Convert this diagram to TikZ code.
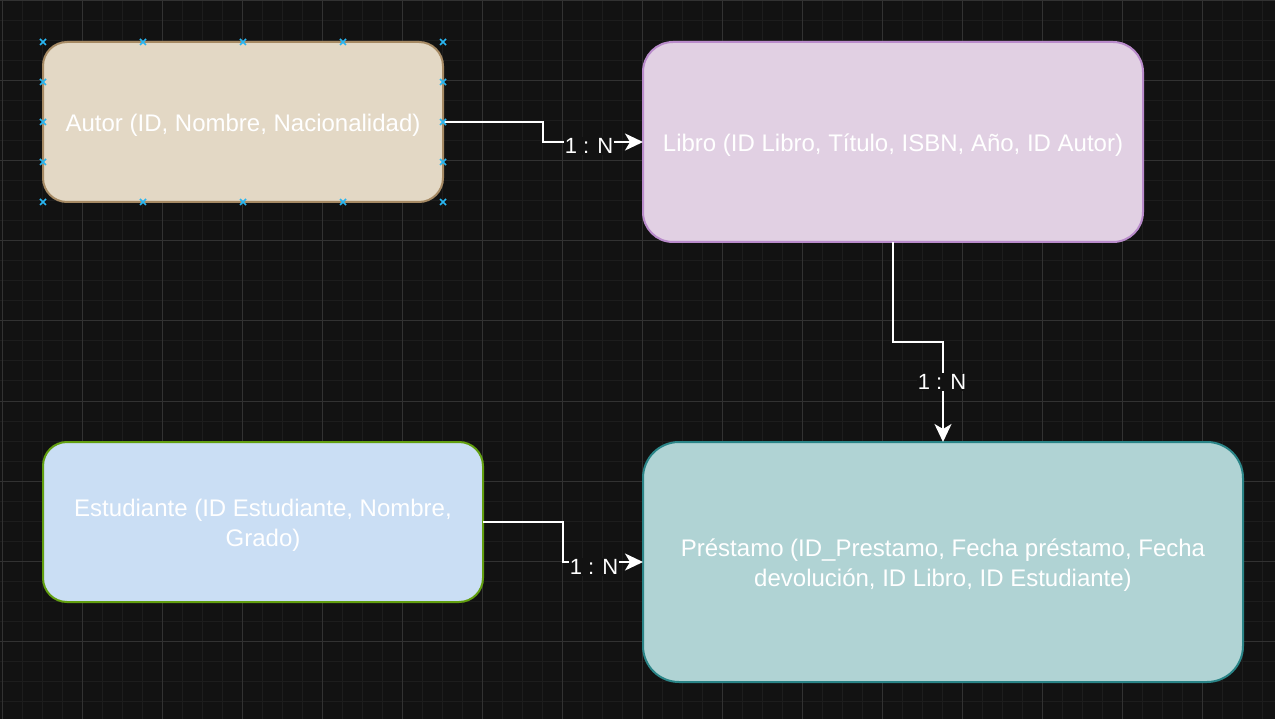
\documentclass[tikz,border=0pt]{standalone}
\usepackage{fontspec}
\setmainfont{Liberation Sans}
\usetikzlibrary{arrows.meta}
\definecolor{bgc}{HTML}{121212}
\definecolor{gminor}{HTML}{1D1D1D}
\definecolor{gmajor}{HTML}{323232}
\definecolor{autfill}{HTML}{E3D8C5}
\definecolor{autdraw}{HTML}{A68A64}
\definecolor{libfill}{HTML}{E1D0E3}
\definecolor{libdraw}{HTML}{B98BCB}
\definecolor{estfill}{HTML}{CADEF4}
\definecolor{estdraw}{HTML}{629F10}
\definecolor{prefill}{HTML}{B0D3D4}
\definecolor{predraw}{HTML}{2A8487}
\definecolor{selc}{HTML}{29B6F2}
\tikzset{
  entity/.style={rectangle, line width=2pt, inner sep=0pt, outer sep=0pt},
  etext/.style={text=white, align=center, font=\fontsize{24}{30}\selectfont, inner sep=0pt},
  rel/.style={draw=white, line width=2pt, -{Stealth[length=18pt,width=17pt,inset=5pt]}},
  lbl/.style={fill=bgc, text=white, inner sep=1pt, font=\fontsize{22}{26}\selectfont},
  selmark/.style={draw=selc, line width=1.6pt}
}
\begin{document}
\begin{tikzpicture}[x=1pt,y=-1pt]
\useasboundingbox (0,0) rectangle (1275,719);
\fill[bgc] (0,0) rectangle (1275,719);
% grid
\foreach \i in {0,...,63} {\draw[gminor, line width=1pt] ({2+20*\i},0) -- ({2+20*\i},719);}
\foreach \i in {0,...,35} {\draw[gminor, line width=1pt] (0,{1+20*\i}) -- (1275,{1+20*\i});}
\foreach \i in {0,...,15} {\draw[gmajor, line width=1pt] ({2+80*\i},0) -- ({2+80*\i},719);}
\foreach \i in {0,...,8} {\draw[gmajor, line width=1pt] (0,{1+80*\i}) -- (1275,{1+80*\i});}
% entities
\node[entity, fill=autfill, draw=autdraw, rounded corners=24pt, minimum width=400pt, minimum height=160pt] (autor) at (243,122) {};
\node[entity, fill=libfill, draw=libdraw, rounded corners=30pt, minimum width=500pt, minimum height=200pt] (libro) at (893,142) {};
\node[entity, fill=estfill, draw=estdraw, rounded corners=24pt, minimum width=440pt, minimum height=160pt] (est) at (263,522) {};
\node[entity, fill=prefill, draw=predraw, rounded corners=36pt, minimum width=600pt, minimum height=240pt] (pre) at (943,562) {};
\node[etext] (autorT) at ([yshift=-3pt]autor.center) {Autor (ID, Nombre, Nacionalidad)};
\node[etext] (libroT) at ([yshift=-3pt]libro.center) {Libro (ID Libro, Título, ISBN, Año, ID Autor)};
\node[etext] (estT) at ([yshift=-3pt]est.center) {Estudiante (ID Estudiante, Nombre,\\Grado)};
\node[etext] (preT) at ([yshift=-3pt]pre.center) {Préstamo (ID\_Prestamo, Fecha préstamo, Fecha\\devolución, ID Libro, ID Estudiante)};
% junctions
\coordinate (j1) at (543,142);
\coordinate (j2) at (943,342);
\coordinate (j3) at (563,562);
% relations
\draw[rel] (autor.east) -| (j1) -- (libro.west);
\draw[rel] (libro.south) |- (j2) -- (pre.north);
\draw[rel] (est.east) -| (j3) -- (pre.west);
\node[lbl] (l1) at (589,146) {1 : N};
\node[lbl] (l2) at (942,382) {1 : N};
\node[lbl] (l3) at (594,567) {1 : N};
% selection handles
\foreach \p in {(43,42),(143,42),(243,42),(343,42),(443,42),(43,202),(143,202),(243,202),(343,202),(443,202),(43,82),(43,122),(43,162),(443,82),(443,122),(443,162)} {
  \draw[selmark] \p ++(-3,-3) -- ++(6,6);
  \draw[selmark] \p ++(-3,3) -- ++(6,-6);
}
\end{tikzpicture}
\end{document}
